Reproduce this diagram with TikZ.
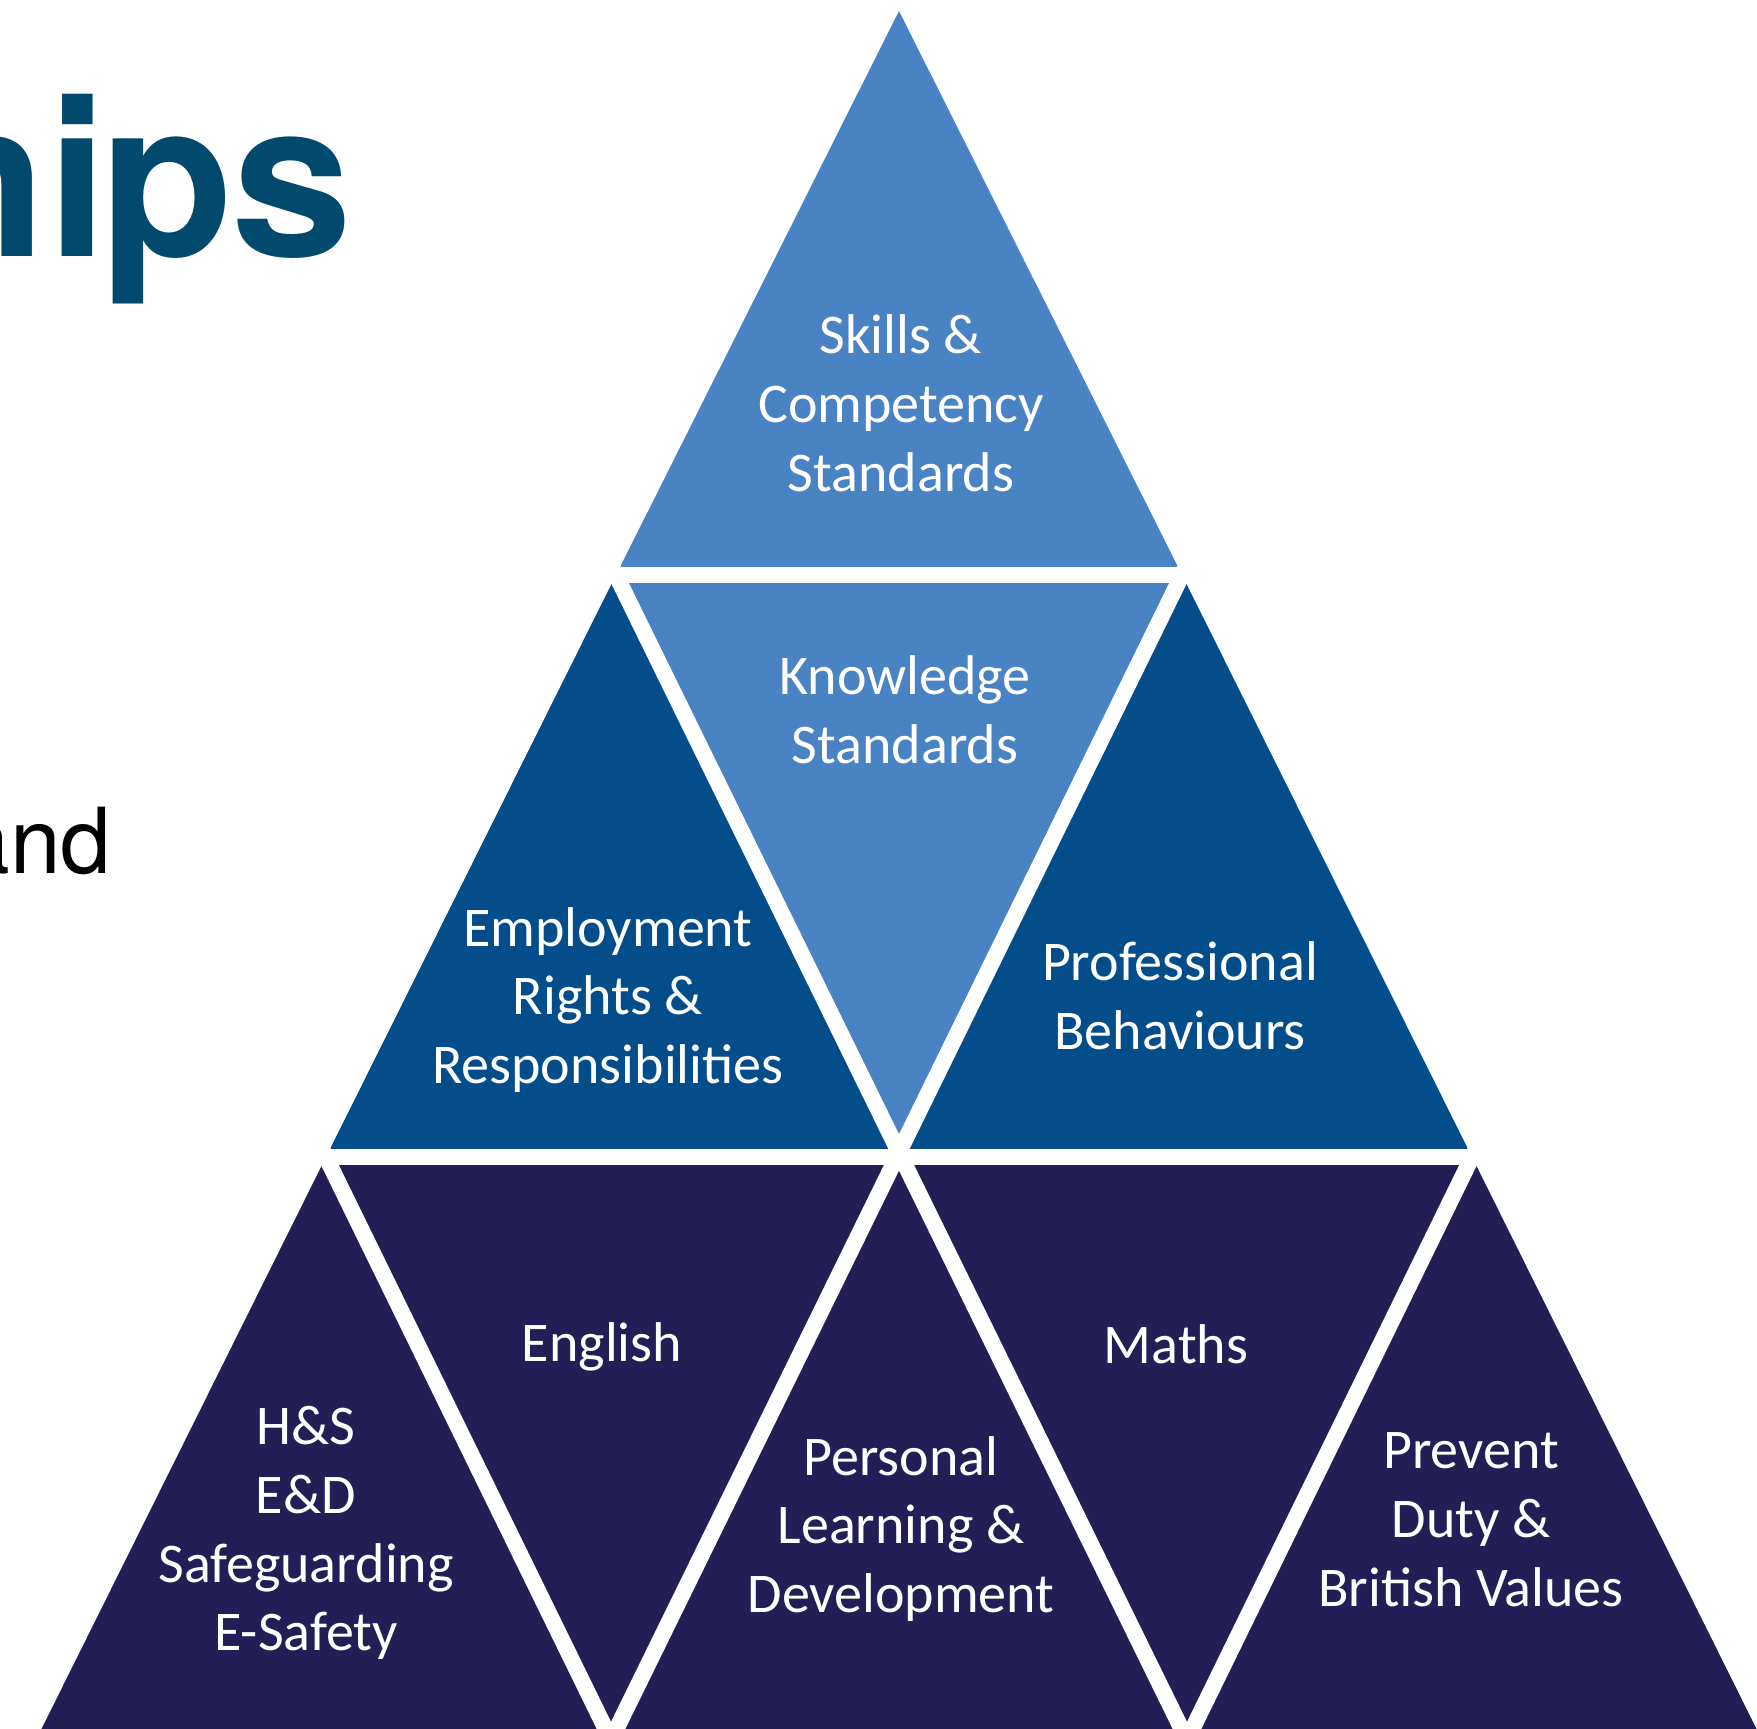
\documentclass[tikz,border=0pt]{standalone}
\usepackage{fontspec}
\setmainfont{Carlito}
\newfontfamily\titlefont{TeX Gyre Heros}
\definecolor{lightb}{RGB}{74,131,195}
\definecolor{midb}{RGB}{4,77,139}
\definecolor{navyb}{RGB}{35,30,86}
\definecolor{titleblue}{RGB}{2,73,110}
\begin{document}
\begin{tikzpicture}[x=0.1mm,y=-0.1mm,
  lbl/.style={text=white, align=center, inner sep=0pt,
    font=\fontsize{15.94}{19.6}\selectfont},
  gap/.style={draw=white, line width=1.6mm, shorten <=-12, shorten >=-12}]
\useasboundingbox (0,0) rectangle (1757,1728);
\clip (0,0) rectangle (1757,1728);
% lattice vertices
\coordinate (A) at (899,11);
\coordinate (B1) at (616,575);
\coordinate (B2) at (1182,575);
\coordinate (C1) at (326,1157);
\coordinate (C2) at (899,1157);
\coordinate (C3) at (1472,1157);
\coordinate (D1) at (36,1740);
\coordinate (D2) at (611,1740);
\coordinate (D3) at (1187,1740);
\coordinate (D4) at (1762,1740);
% tiles
\fill[lightb] (A) -- (B1) -- (B2) -- cycle;
\fill[lightb] (B1) -- (B2) -- (C2) -- cycle;
\fill[midb] (B1) -- (C1) -- (C2) -- cycle;
\fill[midb] (B2) -- (C2) -- (C3) -- cycle;
\fill[navyb] (C1) -- (C3) -- (D4) -- (D1) -- cycle;
% white gaps
\draw[gap] (B1) -- (B2);
\draw[gap] (C1) -- (C3);
\draw[gap] (B1) -- (D3);
\draw[gap] (B2) -- (D2);
\draw[gap] (C1) -- (D2);
\draw[gap] (C3) -- (D3);
% labels
\node[lbl] (skills) at (901,403) {Skills \&\\Competency\\Standards};
\node[lbl] (know) at (905,710) {Knowledge\\Standards};
\node[lbl] (employ) at (608,1000) {Employment\\Rights \&\\Responsibilities};
\node[lbl] (prof) at (1180,996) {Professional\\Behaviours};
\node[lbl] (eng) at (602,1347) {English};
\node[lbl] (hs) at (306,1533) {H\&S\\E\&D\\Safeguarding\\E-Safety};
\node[lbl] (pers) at (901,1529) {Personal\\Learning \&\\Development};
\node[lbl] (maths) at (1176,1344) {Maths};
\node[lbl] (prev) at (1471,1520) {Prevent\\Duty \&\\British Values};
% title fragments
\node[anchor=base west, inner sep=0pt, text=titleblue,
  font=\titlefont\bfseries\fontsize{62}{62}\selectfont] (title) at (-86,257) {hi\kern-0.8mm p\kern-0.2mm s};
\node[anchor=base west, inner sep=0pt, text=black,
  font=\titlefont\fontsize{25.9}{26}\selectfont] (sub) at (-41,873) {and};
\end{tikzpicture}
\end{document}
